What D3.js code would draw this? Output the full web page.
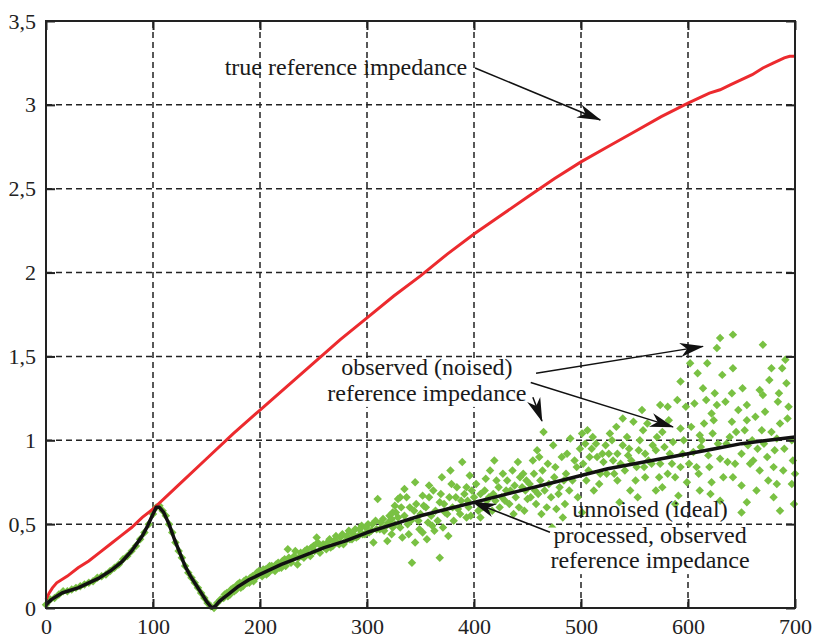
<!DOCTYPE html>
<html lang="en">
<head>
<meta charset="UTF-8">
<title>Reference impedance</title>
<script src="https://d3js.org/d3.v7.min.js"></script>
<style>
  body { margin: 0; background: #fff; }
  svg { display: block; font-family: "Liberation Serif", "DejaVu Serif", serif; }
  .grid line { stroke: #222; stroke-width: 1.5px; stroke-dasharray: 6,4; }
  .axis text { font-size: 22px; fill: #222; font-family: "Liberation Serif", serif; }
  .axis line { stroke: #222; stroke-width: 2px; }
  .note { font-size: 24px; fill: #1a1a1a; }
</style>
</head>
<body>
<svg width="813" height="638"></svg>
<script>
// tick values
const xTicks = [0, 100, 200, 300, 400, 500, 600, 700];
const yTicks = [0, 0.5, 1, 1.5, 2, 2.5, 3, 3.5];

// true reference impedance (red)
const trueX = [0, 3, 6, 10, 20, 30, 40, 50, 60, 70, 80, 90, 100, 125, 150, 175, 200, 225, 250, 275, 300, 325, 350, 375, 400, 425, 450, 475, 500, 525, 550, 575, 600, 610, 620, 630, 640, 650, 660, 670, 680, 690, 695, 700];
const trueY = [0.05, 0.09, 0.12, 0.15, 0.19, 0.24, 0.28, 0.33, 0.38, 0.43, 0.48, 0.54, 0.59, 0.74, 0.89, 1.04, 1.18, 1.32, 1.46, 1.60, 1.73, 1.86, 1.98, 2.11, 2.23, 2.34, 2.45, 2.56, 2.66, 2.75, 2.84, 2.93, 3.01, 3.04, 3.07, 3.09, 3.12, 3.15, 3.18, 3.22, 3.25, 3.28, 3.29, 3.29];

// unnoised (ideal) processed, observed reference impedance (black)
const idealX = [0, 5, 10, 15, 20, 30, 40, 50, 60, 70, 80, 90, 95, 100, 103, 106, 110, 115, 120, 125, 130, 135, 140, 145, 150, 155, 158, 162, 166, 170, 180, 190, 200, 220, 240, 260, 280, 300, 325, 350, 375, 400, 425, 450, 475, 500, 525, 550, 575, 600, 625, 650, 675, 700];
const idealY = [0.02, 0.05, 0.07, 0.09, 0.10, 0.12, 0.15, 0.18, 0.22, 0.27, 0.34, 0.43, 0.49, 0.56, 0.60, 0.60, 0.57, 0.50, 0.41, 0.33, 0.25, 0.19, 0.14, 0.09, 0.04, 0.00, 0.01, 0.04, 0.06, 0.08, 0.13, 0.17, 0.20, 0.26, 0.31, 0.36, 0.40, 0.45, 0.50, 0.55, 0.59, 0.63, 0.67, 0.71, 0.75, 0.79, 0.83, 0.86, 0.89, 0.92, 0.95, 0.98, 1.00, 1.02];

// observed (noised) reference impedance (green points), read in chunks
const greenNear = [[0,0.02],[4,0.05],[8,0.06],[12,0.08],[16,0.10],[20,0.10],[24,0.11],[28,0.12],[32,0.13],[36,0.14],[40,0.15],[44,0.16],[48,0.18],[52,0.19],[56,0.20],[60,0.22],[64,0.24],[68,0.26],[72,0.29],[76,0.31],[80,0.34],[84,0.37],[88,0.41],[92,0.45],[96,0.50],[100,0.56],[103,0.60],[106,0.61],[109,0.58],[112,0.55],[115,0.50],[118,0.45],[121,0.39],[124,0.34],[127,0.30],[130,0.25],[133,0.21],[136,0.18],[139,0.15],[142,0.12],[145,0.09],[148,0.06],[151,0.03],[154,0.01],[157,0.00],[160,0.03],[163,0.05]];
const greenMid = [[166,0.06],[169,0.09],[172,0.08],[175,0.12],[178,0.11],[181,0.15],[184,0.13],[187,0.17],[190,0.15],[193,0.19],[196,0.18],[199,0.22],[202,0.19],[205,0.23],[208,0.21],[211,0.25],[214,0.22],[217,0.27],[220,0.24],[223,0.29],[226,0.35],[229,0.27],[232,0.31],[235,0.26],[238,0.33],[241,0.30],[244,0.35],[247,0.31],[250,0.37],[253,0.42],[256,0.33],[259,0.38],[262,0.35],[265,0.41],[268,0.37],[271,0.43],[274,0.38],[277,0.44],[280,0.40],[283,0.46],[286,0.41],[289,0.47],[292,0.43],[295,0.49],[298,0.44],[301,0.50],[304,0.46],[306,0.39],[308,0.52],[310,0.65],[312,0.47],[315,0.53],[318,0.49],[319,0.40],[321,0.55],[324,0.48],[327,0.57],[331,0.66]];
const greenMid2 = [[167,0.08],[170,0.07],[173,0.11],[176,0.10],[179,0.14],[182,0.12],[185,0.16],[188,0.15],[191,0.18],[194,0.16],[197,0.21],[200,0.20],[203,0.23],[206,0.20],[209,0.25],[212,0.23],[215,0.26],[218,0.24],[221,0.28],[224,0.25],[227,0.30],[230,0.29],[233,0.34],[236,0.30],[239,0.31],[242,0.34],[245,0.32],[248,0.36],[251,0.34],[254,0.39],[257,0.37],[260,0.36],[263,0.39],[266,0.36],[269,0.40],[272,0.39],[275,0.42],[278,0.38],[281,0.43],[284,0.41],[287,0.44],[290,0.42],[293,0.47],[296,0.44],[299,0.48],[302,0.45],[305,0.50],[309,0.47],[313,0.51],[316,0.46],[320,0.51],[323,0.53],[326,0.50],[329,0.54]];
const greenFar = [[335,0.71],[329,0.65],[340,0.60],[324,0.57],[350,0.56],[357,0.51],[331,0.48],[352,0.45],[345,0.39],[342,0.27],[368,0.30],[376,0.43],[375,0.56],[385,0.59],[393,0.54],[406,0.54],[368,0.63],[352,0.67],[362,0.70],[345,0.75],[370,0.78],[378,0.82],[389,0.87],[393,0.72],[406,0.68],[415,0.82],[421,0.76],[431,0.76],[443,0.78],[448,0.70],[429,0.64],[450,0.65],[441,0.87],[455,0.88],[464,0.82],[459,0.94],[474,0.97],[482,0.90],[465,1.05],[490,1.01],[501,1.04],[468,0.60],[477,0.59],[483,0.54],[473,0.48],[463,0.56],[501,0.57],[490,0.43],[400,0.66],[405,0.62],[410,0.70],[412,0.64],[418,0.68],[423,0.72],[426,0.66],[434,0.70],[438,0.73],[445,0.72],[452,0.74],[457,0.70],[462,0.76],[470,0.74],[475,0.78],[480,0.72],[486,0.80],[492,0.76],[496,0.84],[335,0.55],[338,0.50],[344,0.58],[348,0.52],[355,0.60],[360,0.55],[364,0.58],[372,0.62],[380,0.60],[383,0.66],[388,0.64],[395,0.60],[398,0.70]];
const greenFar2 = [[332,0.60],[337,0.66],[341,0.52],[346,0.62],[349,0.47],[353,0.61],[358,0.66],[361,0.49],[366,0.52],[369,0.68],[373,0.57],[377,0.66],[381,0.52],[384,0.72],[387,0.56],[391,0.68],[394,0.64],[397,0.55],[402,0.74],[404,0.58],[333,0.42],[339,0.44],[356,0.41],[363,0.46],[371,0.48],[379,0.74],[396,0.79],[326,0.61],[323,0.44],[358,0.73],[408,0.60],[411,0.77],[414,0.66],[417,0.58],[420,0.64],[424,0.60],[427,0.80],[430,0.70],[433,0.62],[436,0.82],[439,0.66],[442,0.60],[446,0.80],[449,0.76],[453,0.66],[456,0.80],[460,0.68],[461,0.90],[466,0.70],[469,0.86],[472,0.66],[476,0.84],[479,0.68],[484,0.76],[487,0.92],[489,0.70],[494,0.88],[497,0.66],[499,0.95],[419,0.88],[437,0.56],[485,0.62],[447,0.58],[458,0.62]];
const greenEdge = [[642,1.63],[630,1.61],[670,1.57],[627,1.55],[602,1.46],[618,1.46],[691,1.48],[678,1.43],[688,1.43],[642,1.43],[609,1.40],[632,1.39],[593,1.35],[614,1.31],[651,1.31],[692,1.34],[667,1.30],[641,1.28],[625,1.28],[670,1.27],[590,1.24],[574,1.21],[581,1.20],[635,1.23],[627,1.21],[684,1.23],[655,1.21],[557,1.18],[672,1.17],[622,1.16],[539,1.13],[693,1.13],[549,1.11],[655,1.12],[641,1.11],[686,1.10],[593,1.07],[603,1.08],[669,1.06],[678,1.05],[558,1.06],[576,1.05],[527,1.04],[611,1.03],[623,1.04],[506,1.06],[514,0.98],[529,1.00],[539,0.97],[555,1.00],[567,0.97],[636,0.98],[656,0.97],[683,1.01],[534,0.92],[544,0.91],[560,0.92],[583,0.92],[605,0.93],[619,0.91],[630,0.89],[637,0.87],[650,0.92],[661,0.88],[674,0.90],[680,0.84],[608,0.84],[593,0.84],[574,0.86],[508,0.90],[521,0.87],[552,0.84],[581,0.80],[622,0.75],[642,0.78],[650,0.73],[697,0.74],[683,0.74],[599,0.75],[576,0.72],[546,0.70],[534,0.76],[518,0.80],[621,0.68],[655,0.63],[680,0.66],[686,0.58],[650,0.57],[591,0.67],[553,0.66],[536,0.63],[502,0.86],[505,0.76],[510,0.95],[512,0.70],[520,0.92],[524,0.80],[530,0.88],[541,0.82],[545,0.95],[560,0.78],[563,0.88],[570,0.94],[586,0.99],[596,1.00],[612,0.96],[615,1.10],[645,1.05],[660,1.00],[665,0.95],[690,0.95],[698,0.88],[700,0.80]];
const greenEdge2 = [[504,0.98],[507,0.82],[511,1.02],[515,0.90],[517,0.74],[523,0.97],[526,0.92],[531,0.80],[533,1.08],[537,0.86],[543,1.02],[547,0.88],[551,0.76],[554,0.94],[559,0.84],[562,1.10],[566,0.86],[571,1.02],[573,0.78],[578,0.96],[582,1.12],[585,0.86],[588,0.78],[595,0.92],[598,1.20],[601,0.86],[606,1.22],[610,0.80],[613,1.00],[617,1.24],[620,0.84],[624,1.12],[628,0.98],[633,0.78],[639,1.02],[644,0.86],[647,1.18],[653,1.06],[658,0.86],[663,1.14],[667,0.82],[671,0.98],[676,1.36],[681,0.94],[685,1.28],[689,0.82],[694,1.20],[697,1.00],[699,0.62],[664,0.70],[611,0.70],[570,0.70],[588,0.62],[630,0.64],[675,0.76]];

// annotation texts and arrows (data units)
const noteTrue = ["true reference impedance"];
const noteObserved = ["observed (noised)", "reference impedance"];
const noteIdeal = ["unnoised (ideal)", "processed, observed", "reference impedance"];
const arrows = [
    [[401, 3.22], [518, 2.91]],
    [[458, 1.40], [614, 1.56]],
    [[453, 1.345], [586, 1.08]],
    [[455, 1.256], [463.5, 1.115]],
    [[471, 0.452], [399, 0.631]]
];

const svg = d3.select("svg");
const x = d3.scaleLinear().domain([0, 700]).range([46, 795]);
const y = d3.scaleLinear().domain([0, 3.5]).range([608, 21]);
const fmt = d => String(d).replace(".", ",");

// grid
const grid = svg.append("g").attr("class", "grid");
grid.selectAll(".gx").data(xTicks.slice(1, -1)).enter().append("line")
    .attr("x1", d => x(d)).attr("x2", d => x(d))
    .attr("y1", y(0)).attr("y2", y(3.5));
grid.selectAll(".gy").data(yTicks.slice(1, -1)).enter().append("line")
    .attr("y1", d => y(d)).attr("y2", d => y(d))
    .attr("x1", x(0)).attr("x2", x(700));

// green observed points
const green = greenNear.concat(greenMid, greenMid2, greenFar, greenFar2, greenEdge, greenEdge2);
const diamond = d3.symbol().type(d3.symbolSquare).size(36);
svg.append("g").selectAll("path").data(green).enter().append("path")
    .attr("d", diamond)
    .attr("fill", "#79c143")
    .attr("transform", d => `translate(${x(d[0])},${y(d[1])}) rotate(45)`);

const line = d3.line().x(d => x(d[0])).y(d => y(d[1]));

svg.append("path")
    .datum(trueX.map((v, i) => [v, trueY[i]]))
    .attr("fill", "none").attr("stroke", "#ec2a2e").attr("stroke-width", 3)
    .attr("d", line);

svg.append("path")
    .datum(idealX.map((v, i) => [v, idealY[i]]))
    .attr("fill", "none").attr("stroke", "#111").attr("stroke-width", 3.5)
    .attr("stroke-linejoin", "round")
    .attr("d", line);

// axes with inner ticks
svg.append("g").attr("class", "axis")
    .attr("transform", `translate(0,${y(0)})`)
    .call(d3.axisBottom(x).tickValues(xTicks).tickSizeInner(-9).tickSizeOuter(0).tickPadding(10).tickFormat(fmt))
    .call(g => g.select(".domain").remove());
svg.append("g").attr("class", "axis")
    .attr("transform", `translate(${x(0)},0)`)
    .call(d3.axisLeft(y).tickValues(yTicks).tickSizeInner(-9).tickSizeOuter(0).tickPadding(10).tickFormat(fmt))
    .call(g => g.select(".domain").remove());
svg.append("g").attr("class", "axis")
    .attr("transform", `translate(0,${y(3.5)})`)
    .call(d3.axisTop(x).tickValues(xTicks).tickSizeInner(-9).tickSizeOuter(0).tickFormat(""))
    .call(g => g.select(".domain").remove());
svg.append("g").attr("class", "axis")
    .attr("transform", `translate(${x(700)},0)`)
    .call(d3.axisRight(y).tickValues(yTicks).tickSizeInner(-9).tickSizeOuter(0).tickFormat(""))
    .call(g => g.select(".domain").remove());

svg.append("rect")
    .attr("x", x(0)).attr("y", y(3.5))
    .attr("width", x(700) - x(0)).attr("height", y(0) - y(3.5))
    .attr("fill", "none").attr("stroke", "#222").attr("stroke-width", 2);

// arrow marker
svg.append("defs").append("marker")
    .attr("id", "head")
    .attr("viewBox", "0 -8 24 16")
    .attr("refX", 23).attr("refY", 0)
    .attr("markerWidth", 24).attr("markerHeight", 16)
    .attr("markerUnits", "userSpaceOnUse")
    .attr("orient", "auto")
    .append("path").attr("d", "M0,-7L24,0L0,7L7,0Z").attr("fill", "#111");

// annotation text blocks, white backing where the original hides the grid
function note(lines, cx, cy, anchor, cover, skipFirst) {
    const g = svg.append("g");
    const bg = g.append("rect").attr("fill", "#fff");
    const t = g.append("text").attr("class", "note").attr("text-anchor", anchor);
    lines.forEach((s, i) => {
        t.append("tspan").attr("x", x(cx)).attr("y", y(cy) + i * 25.5).text(s);
    });
    if (cover) {
        const b = t.node().getBBox();
        const top = y(cy) + (skipFirst ? 25.5 - 15 : -15);
        bg.attr("x", b.x - 3).attr("width", b.width + 6)
          .attr("y", top).attr("height", b.y + b.height - top + 1);
    }
}
note(noteTrue, 167, 3.18, "start", false);
note(noteObserved, 356, 1.387, "middle", true, false);
note(noteIdeal, 564.5, 0.542, "middle", true, true);

svg.append("g").selectAll("line").data(arrows).enter().append("line")
    .attr("x1", d => x(d[0][0])).attr("y1", d => y(d[0][1]))
    .attr("x2", d => x(d[1][0])).attr("y2", d => y(d[1][1]))
    .attr("stroke", "#111").attr("stroke-width", 1.5)
    .attr("marker-end", "url(#head)");
</script>
</body>
</html>
